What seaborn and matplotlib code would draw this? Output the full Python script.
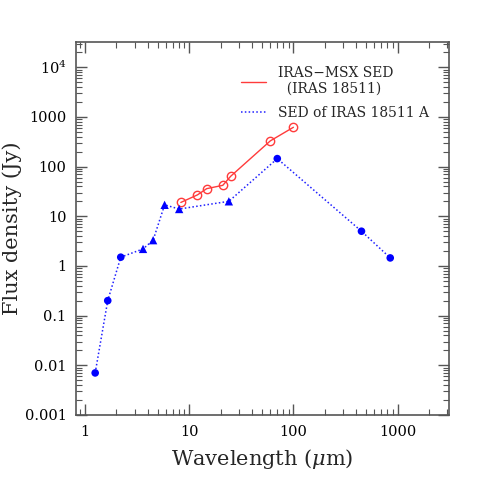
import numpy as np
import pandas as pd
import matplotlib
matplotlib.use("Agg")
import matplotlib.pyplot as plt
import seaborn as sns
from matplotlib.lines import Line2D
from matplotlib.ticker import LogLocator, FixedLocator, NullFormatter

# Data
red_wl = [8.3, 12, 14.7, 21, 25, 60, 100]
red_flux = [19, 27, 36, 42, 64, 330, 620]

blue_wl = [1.25, 1.65, 2.2, 3.6, 4.5, 5.8, 8.0, 24, 70, 450, 850]
blue_flux = [0.007, 0.2, 1.5, 2.2, 3.3, 17, 14, 20, 145, 5.0, 1.45]
blue_marker = ["o", "o", "o", "^", "^", "^", "^", "^", "o", "o", "o"]

ytick_vals = [0.001, 0.01, 0.1, 1, 10, 100, 1000, 1e4]
ytick_labels = ["0.001", "0.01", "0.1", "1", "10", "100", "1000", r"10$^4$"]
xtick_vals = [1, 10, 100, 1000]
xtick_labels = ["1", "10", "100", "1000"]

sns.set_theme(style="ticks")
plt.rcParams["font.family"] = ["DejaVu Serif"]
plt.rcParams["mathtext.fontset"] = "dejavuserif"

fig = plt.figure(figsize=(4.91, 4.91), dpi=100)
ax = fig.add_axes([0.155, 0.155, 0.759, 0.759])

red_df = pd.DataFrame({"wl": red_wl, "flux": red_flux})
blue_df = pd.DataFrame({"wl": blue_wl, "flux": blue_flux, "m": blue_marker})

red_c = "#ff3b3b"
blue_c = "#2020ff"

sns.lineplot(data=blue_df, x="wl", y="flux", ax=ax, color=blue_c, lw=1.1,
             linestyle=(0, (1, 1.5)), sort=False, estimator=None)
circ = blue_df[blue_df["m"] == "o"]
tri = blue_df[blue_df["m"] == "^"]
sns.scatterplot(data=circ, x="wl", y="flux", ax=ax, color="#0000ff", marker="o",
                s=30, edgecolor="none", zorder=4)
sns.scatterplot(data=tri, x="wl", y="flux", ax=ax, color="#0000ff", marker="^",
                s=36, edgecolor="none", zorder=4)
sns.lineplot(data=red_df, x="wl", y="flux", ax=ax, color=red_c, lw=1.0,
             marker="o", markersize=6, markerfacecolor="none",
             markeredgecolor=red_c, markeredgewidth=1.0, sort=False, estimator=None)

ax.set_xscale("log")
ax.set_yscale("log")
ax.set_xlim(0.82, 3100)
ax.set_ylim(0.001, 3.2e4)

ax.xaxis.set_major_locator(FixedLocator(xtick_vals))
ax.set_xticklabels(xtick_labels)
ax.xaxis.set_minor_locator(LogLocator(base=10, subs=np.arange(2, 10), numticks=20))
ax.xaxis.set_minor_formatter(NullFormatter())
ax.yaxis.set_major_locator(FixedLocator(ytick_vals))
ax.set_yticklabels(ytick_labels)
ax.yaxis.set_minor_locator(LogLocator(base=10, subs=np.arange(2, 10), numticks=20))
ax.yaxis.set_minor_formatter(NullFormatter())

ax.tick_params(which="both", direction="in", top=True, right=True, colors="#555555",
               labelcolor="black", labelsize=10.5, pad=7)
ax.tick_params(which="major", length=8, width=1)
ax.tick_params(which="minor", length=4, width=0.8)
for s in ax.spines.values():
    s.set_color("#555555")
    s.set_linewidth(1.2)

ax.set_xlabel(r"Wavelength ($\mu$m)", fontsize=15, labelpad=6)
ax.set_ylabel("Flux density (Jy)", fontsize=15)
ax.yaxis.set_label_coords(-0.145, 0.5)

handles = [Line2D([], [], color=red_c, lw=1.0),
           Line2D([], [], color=blue_c, lw=1.1, linestyle=(0, (1, 1.5)))]
labels = ["IRAS\u2212MSX SED\n  (IRAS 18511)", "SED of IRAS 18511 A"]
ax.legend(handles, labels, loc="upper left", bbox_to_anchor=(0.41, 0.97),
          frameon=False, fontsize=10, handlelength=1.8, handletextpad=0.8,
          labelspacing=0.7)

fig.savefig("out.png", dpi=100)
